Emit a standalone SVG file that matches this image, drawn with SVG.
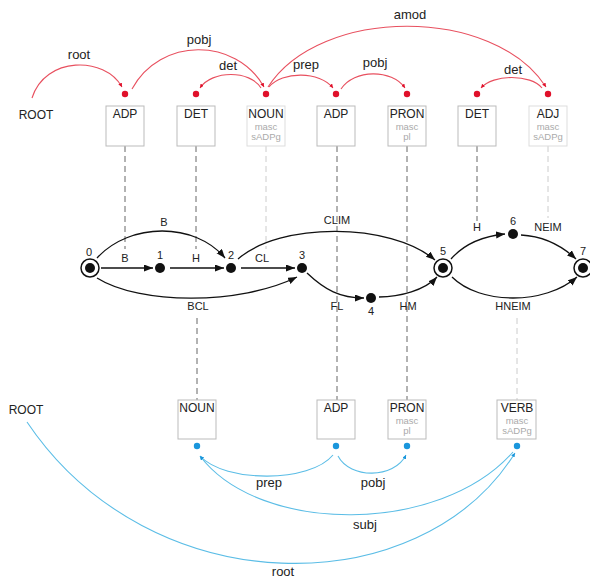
<svg xmlns="http://www.w3.org/2000/svg" width="590" height="578" viewBox="0 0 590 578">
<style>
text{font-family:"Liberation Sans",Arial,sans-serif;fill:#222}
.box{fill:#fff;stroke:#bbb;stroke-width:1}
.boxl{fill:#fff;stroke:#ddd;stroke-width:1}
.pos{font-size:12px;text-anchor:middle}
.feat{font-size:9.5px;text-anchor:middle;fill:#aaa}
.dd{stroke:#666;stroke-dasharray:6 4;fill:none}
.dl{stroke:#ccc;stroke-dasharray:6 4;fill:none}
.red{stroke:#e8505f;fill:none;stroke-width:1.1}
.blue{stroke:#5bbde6;fill:none;stroke-width:1.1}
.rdot{fill:#e0102a}
.bdot{fill:#1a96dc}
.lab{font-size:13px;text-anchor:middle}
.fl{font-size:11px;text-anchor:middle}
.fe{stroke:#111;stroke-width:1.3;fill:none;marker-end:url(#ak)}
.st{fill:#111}
</style>
<defs>
<marker id="ak" markerUnits="userSpaceOnUse" markerWidth="10" markerHeight="8" refX="9" refY="3.5" orient="auto"><path d="M0,0 L9,3.5 L0,7 z" fill="#111"/></marker>
<marker id="ar" markerUnits="userSpaceOnUse" markerWidth="6" markerHeight="6" refX="4" refY="2" orient="auto"><path d="M0,0 L4,2 L0,4 z" fill="#e0102a"/></marker>
<marker id="ab" markerUnits="userSpaceOnUse" markerWidth="6" markerHeight="6" refX="4" refY="2" orient="auto"><path d="M0,0 L4,2 L0,4 z" fill="#1a96dc"/></marker>
</defs>

<g id="alignments">
<line class="dd" x1="125" y1="146" x2="125" y2="249"/>
<line class="dd" x1="196" y1="146" x2="196" y2="249"/>
<line class="dl" x1="266" y1="146" x2="266" y2="249"/>
<line class="dd" x1="337" y1="146" x2="337" y2="400"/>
<line class="dd" x1="407" y1="146" x2="407" y2="400"/>
<line class="dd" x1="477" y1="146" x2="477" y2="221"/>
<line class="dl" x1="548" y1="146" x2="548" y2="218"/>
<line class="dd" x1="197" y1="318" x2="197" y2="400"/>
<line class="dl" x1="517" y1="318" x2="517" y2="400"/>
</g>

<g id="top-adp1"><rect class="box" x="106" y="106" width="38" height="40"/><text class="pos" x="125" y="118">ADP</text><circle class="rdot" cx="125" cy="94" r="3.2"/></g>
<g id="top-det1"><rect class="box" x="177" y="106" width="38" height="40"/><text class="pos" x="196" y="118">DET</text><circle class="rdot" cx="196" cy="94" r="3.2"/></g>
<g id="top-noun"><rect class="boxl" x="247" y="106" width="38" height="40"/><text class="pos" x="266" y="118">NOUN</text><text class="feat" x="266" y="130">masc</text><text class="feat" x="266" y="140">sADPg</text><circle class="rdot" cx="266" cy="94" r="3.2"/></g>
<g id="top-adp2"><rect class="box" x="317" y="106" width="38" height="40"/><text class="pos" x="336" y="118">ADP</text><circle class="rdot" cx="336" cy="94" r="3.2"/></g>
<g id="top-pron"><rect class="box" x="388" y="106" width="38" height="40"/><text class="pos" x="407" y="118">PRON</text><text class="feat" x="407" y="130">masc</text><text class="feat" x="407" y="140">pl</text><circle class="rdot" cx="407" cy="94" r="3.2"/></g>
<g id="top-det2"><rect class="box" x="458" y="106" width="38" height="40"/><text class="pos" x="477" y="118">DET</text><circle class="rdot" cx="477" cy="94" r="3.2"/></g>
<g id="top-adj"><rect class="boxl" x="529" y="106" width="38" height="40"/><text class="pos" x="548" y="118">ADJ</text><text class="feat" x="548" y="130">masc</text><text class="feat" x="548" y="140">sADPg</text><circle class="rdot" cx="548" cy="94" r="3.2"/></g>
<g id="top-root"><text class="pos" x="36" y="119">ROOT</text></g>

<g id="bot-noun"><rect class="box" x="178" y="400" width="38" height="39"/><text class="pos" x="197" y="412">NOUN</text><circle class="bdot" cx="197" cy="446" r="3.2"/></g>
<g id="bot-adp"><rect class="box" x="317" y="400" width="38" height="39"/><text class="pos" x="336" y="412">ADP</text><circle class="bdot" cx="336" cy="446" r="3.2"/></g>
<g id="bot-pron"><rect class="box" x="388" y="400" width="38" height="39"/><text class="pos" x="407" y="412">PRON</text><text class="feat" x="407" y="424">masc</text><text class="feat" x="407" y="434">pl</text><circle class="bdot" cx="407" cy="446" r="3.2"/></g>
<g id="bot-verb"><rect class="box" x="497" y="400" width="39" height="39"/><text class="pos" x="517" y="412">VERB</text><text class="feat" x="517" y="424">masc</text><text class="feat" x="517" y="434">sADPg</text><circle class="bdot" cx="517" cy="446" r="3.2"/></g>
<g id="bot-root"><text class="pos" x="26" y="414">ROOT</text></g>

<g id="s0"><circle cx="90" cy="268" r="9" fill="#fff" stroke="#111" stroke-width="1.5"/><circle class="st" cx="90" cy="268" r="5"/><text class="fl" x="89" y="256">0</text></g>
<g id="s1"><circle class="st" cx="160" cy="268" r="5"/><text class="fl" x="160" y="259">1</text></g>
<g id="s2"><circle class="st" cx="231" cy="268" r="5"/><text class="fl" x="231" y="259">2</text></g>
<g id="s3"><circle class="st" cx="302" cy="268" r="5"/><text class="fl" x="302" y="259">3</text></g>
<g id="s4"><circle class="st" cx="371" cy="298" r="5"/><text class="fl" x="371" y="315">4</text></g>
<g id="s5"><circle cx="443" cy="268" r="9" fill="#fff" stroke="#111" stroke-width="1.5"/><circle class="st" cx="443" cy="268" r="5"/><text class="fl" x="443" y="255">5</text></g>
<g id="s6"><circle class="st" cx="513" cy="234" r="5"/><text class="fl" x="513" y="225">6</text></g>
<g id="s7"><circle cx="583" cy="268" r="9" fill="#fff" stroke="#111" stroke-width="1.5"/><circle class="st" cx="583" cy="268" r="5"/><text class="fl" x="583" y="255">7</text></g>

<g id="connectors">
<line class="fe" x1="101" y1="268" x2="153" y2="268"/>
<line class="fe" x1="170" y1="268" x2="224" y2="268"/>
<line class="fe" x1="241" y1="268" x2="295" y2="268"/>
<path class="fe" d="M97,258 C130,222 195,222 225,258"/>
<path class="fe" d="M97,278 C140,305 240,305 297,277"/>
<path class="fe" d="M238,259 C280,222 390,222 435,260"/>
<path class="fe" d="M307,273 C325,290 340,298 364,298"/>
<path class="fe" d="M379,297 C400,297 425,290 437,277"/>
<path class="fe" d="M451,259 C465,243 485,236 505,234"/>
<path class="fe" d="M521,235 C540,236 560,244 576,259"/>
<path class="fe" d="M452,277 C480,305 545,305 577,277"/>
<text class="fl" x="125" y="262">B</text>
<text class="fl" x="196" y="262">H</text>
<text class="fl" x="262" y="262">CL</text>
<text class="fl" x="164" y="226">B</text>
<text class="fl" x="337" y="224">CLIM</text>
<text class="fl" x="198" y="310">BCL</text>
<text class="fl" x="337" y="310">FL</text>
<text class="fl" x="408" y="310">HM</text>
<text class="fl" x="513" y="310">HNEIM</text>
<text class="fl" x="477" y="231">H</text>
<text class="fl" x="548" y="231">NEIM</text>

<path class="red" marker-end="url(#ar)" d="M32,98 C45,56 105,56 122,87"/>
<path class="red" marker-end="url(#ar)" d="M132,89 C160,37 236,37 264,87"/>
<path class="red" marker-end="url(#ar)" d="M261,88 C250,70 212,70 200,88"/>
<path class="red" marker-end="url(#ar)" d="M269,87 C282,71 320,71 333,88"/>
<path class="red" marker-end="url(#ar)" d="M341,89 C354,69 392,69 405,88"/>
<path class="red" marker-end="url(#ar)" d="M268,87 C320,6 494,6 546,87"/>
<path class="red" marker-end="url(#ar)" d="M542,88 C531,74 493,74 481,88"/>
<text class="lab" x="79" y="59">root</text>
<text class="lab" x="199" y="44">pobj</text>
<text class="lab" x="228" y="70">det</text>
<text class="lab" x="306" y="69">prep</text>
<text class="lab" x="375" y="67">pobj</text>
<text class="lab" x="410" y="19">amod</text>
<text class="lab" x="513" y="74">det</text>

<path class="blue" marker-end="url(#ab)" d="M27,422 C150,605 420,605 515,453"/>
<path class="blue" marker-end="url(#ab)" d="M333,455 C310,483 225,483 200,456"/>
<path class="blue" marker-end="url(#ab)" d="M338,456 C350,479 394,479 406,455"/>
<path class="blue" marker-end="url(#ab)" d="M513,452 C440,535 260,535 200,456"/>
<text class="lab" x="269" y="487">prep</text>
<text class="lab" x="373" y="487">pobj</text>
<text class="lab" x="365" y="529">subj</text>
<text class="lab" x="283" y="576">root</text>
</g>
</svg>
